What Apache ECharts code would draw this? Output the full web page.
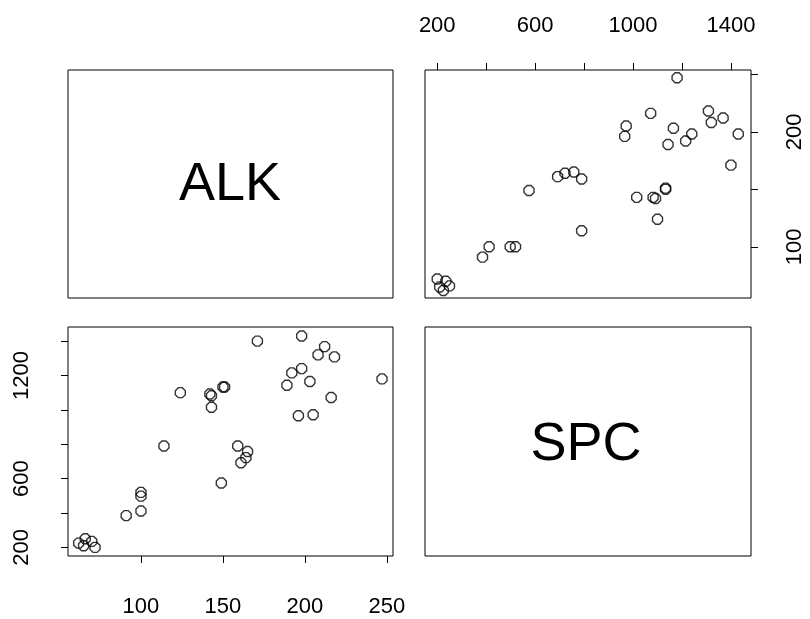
<!DOCTYPE html>
<html><head><meta charset="utf-8">
<script src="https://cdn.jsdelivr.net/npm/echarts@6/dist/echarts.min.js"></script>
<style>html,body{margin:0;padding:0;background:#fff}#c{width:810px;height:619px}</style>
</head><body><div id="c"></div>
<script>
// Data (ALK vs SPC)
const alk = [62, 66, 65, 70, 72, 91, 100, 100, 100, 114, 124, 149, 142, 143, 143, 150, 151, 159, 165, 164, 161, 171, 189, 192, 198, 198, 196, 205, 203, 208, 212, 218, 216, 247];
const spc = [225, 250, 210, 235, 200, 385, 412, 498, 520, 790, 1100, 575, 1092, 1082, 1015, 1133, 1133, 790, 758, 722, 692, 1400, 1143, 1215, 1240, 1430, 966, 972, 1165, 1320, 1368, 1308, 1072, 1180];
const varNames = ["ALK", "SPC"];
const alkTicks = [100, 150, 200, 250];
const alkTicksRight = [100, 150, 200, 250];
const alkLabelsRight = [100, 200];
const spcTicks = [200, 400, 600, 800, 1000, 1200, 1400];
const spcLabelsLeft = [200, 600, 1200];
const spcLabelsTop = [200, 600, 1000, 1400];

const alkRange = [55.5, 253.7];
const spcRange = [150, 1482];

const FONT = "Liberation Sans, Arial, sans-serif";
const chart = echarts.init(document.getElementById('c'));

const grids = [
  {left: 68, top: 70, width: 325, height: 228},   // TL diag
  {left: 425, top: 70, width: 326, height: 228},  // TR: x=SPC, y=ALK
  {left: 68, top: 327, width: 325, height: 229},  // BL: x=ALK, y=SPC
  {left: 425, top: 327, width: 326, height: 229}  // BR diag
].map(g => Object.assign({show: true, borderColor: '#000', borderWidth: 1, backgroundColor: 'transparent'}, g));

const hiddenAxis = (gi) => ({gridIndex: gi, type: 'value', min: 0, max: 1, show: false});
const lblStyle = {color: '#000', fontSize: 22, fontFamily: FONT, formatter: v => String(v)};
const tickStyle = {show: true, length: 7, lineStyle: {color: '#000', width: 1}};

const xAxis = [
  hiddenAxis(0),
  {gridIndex: 1, type: 'value', position: 'top', min: spcRange[0], max: spcRange[1],
   axisLine: {show: false}, splitLine: {show: false},
   axisTick: Object.assign({customValues: spcTicks}, tickStyle),
   axisLabel: Object.assign({customValues: spcLabelsTop, margin: 33}, lblStyle)},
  {gridIndex: 2, type: 'value', position: 'bottom', min: alkRange[0], max: alkRange[1],
   axisLine: {show: false}, splitLine: {show: false},
   axisTick: Object.assign({customValues: alkTicks}, tickStyle),
   axisLabel: Object.assign({customValues: alkTicks, margin: 40}, lblStyle)},
  hiddenAxis(3)
];
const yAxis = [
  hiddenAxis(0),
  {gridIndex: 1, type: 'value', position: 'right', min: alkRange[0], max: alkRange[1],
   axisLine: {show: false}, splitLine: {show: false},
   axisTick: Object.assign({customValues: alkTicksRight}, tickStyle),
   axisLabel: Object.assign({customValues: alkLabelsRight, margin: 33, rotate: 90}, lblStyle)},
  {gridIndex: 2, type: 'value', position: 'left', min: spcRange[0], max: spcRange[1],
   axisLine: {show: false}, splitLine: {show: false},
   axisTick: Object.assign({customValues: spcTicks}, tickStyle),
   axisLabel: Object.assign({customValues: spcLabelsLeft, margin: 35, rotate: 90}, lblStyle)},
  hiddenAxis(3)
];

const octagon = 'path://M3,0 L7,0 L10,3 L10,7 L7,10 L3,10 L0,7 L0,3 Z';
const sym = {symbol: octagon, symbolSize: 10, itemStyle: {color: 'rgba(255,255,255,0)', borderColor: '#000', borderWidth: 1.4}};

const series = [
  Object.assign({type: 'scatter', xAxisIndex: 1, yAxisIndex: 1, data: spc.map((s, i) => [s, alk[i]])}, sym),
  Object.assign({type: 'scatter', xAxisIndex: 2, yAxisIndex: 2, data: alk.map((a, i) => [a, spc[i]])}, sym)
];

chart.setOption({
  animation: false,
  backgroundColor: '#fff',
  grid: grids,
  xAxis: xAxis,
  yAxis: yAxis,
  series: series,
  graphic: [
    {type: 'text', x: 230, y: 185, style: {text: varNames[0], fontSize: 54, fontFamily: FONT, fill: '#000', align: 'center', verticalAlign: 'middle'}},
    {type: 'text', x: 586, y: 445, style: {text: varNames[1], fontSize: 54, fontFamily: FONT, fill: '#000', align: 'center', verticalAlign: 'middle'}}
  ]
});
</script></body></html>
